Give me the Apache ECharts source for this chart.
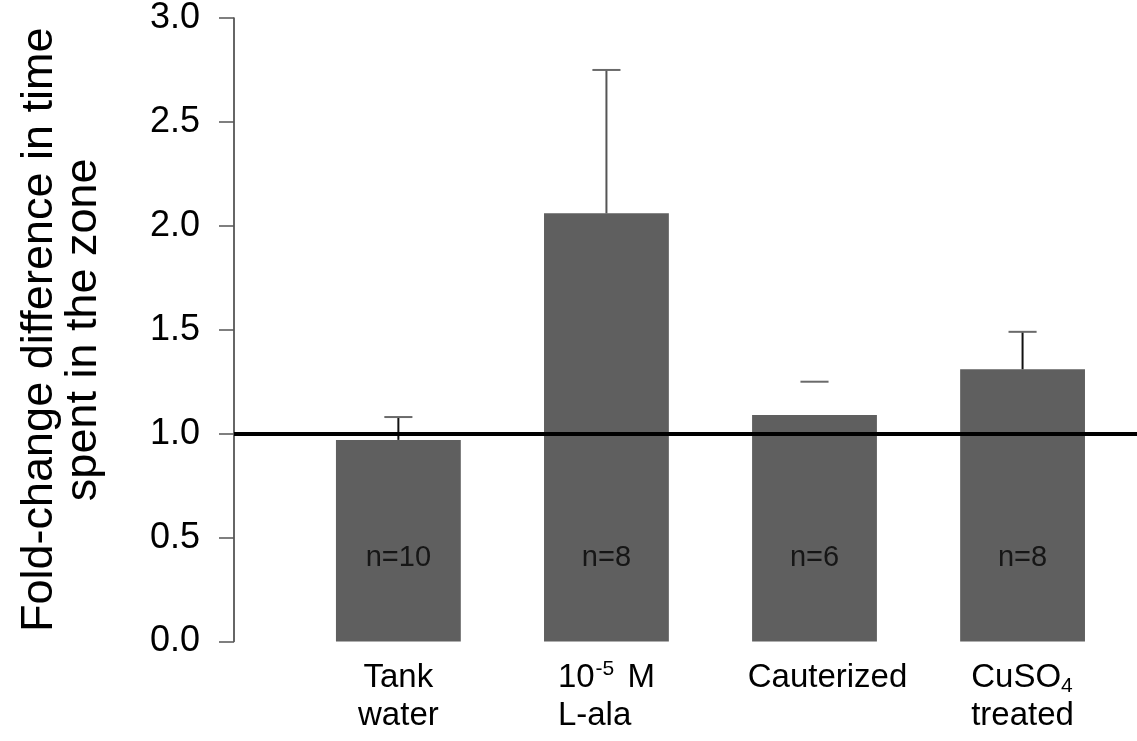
<!DOCTYPE html>
<html>
<head>
<meta charset="utf-8">
<script src="https://cdn.jsdelivr.net/npm/echarts@6/dist/echarts.min.js"></script>
<style>
  html, body { margin: 0; padding: 0; background: #ffffff; }
  #chart { width: 1137px; height: 741px; }
</style>
</head>
<body>
<div id="chart"></div>
<script>
// ---- data ----
const categories = ['Tank water', '10-5 M L-ala', 'Cauterized', 'CuSO4 treated'];
const means = [0.97, 2.06, 1.09, 1.31];
const errors = [0.11, 0.69, 0.16, 0.18];
const nLabels = ['n=10', 'n=8', 'n=6', 'n=8'];
const yTickLabels = ['0.0', '0.5', '1.0', '1.5', '2.0', '2.5', '3.0'];
const referenceLevel = 1.0;

// ---- styling ----
const FONT = '"Liberation Sans", Arial, Helvetica, sans-serif';
const stemColors = ['#111111', '#555555', 'rgba(0,0,0,0)', '#111111'];
const categoryRich = [
  '{c|Tank}\n{c|water}',
  '{l|10}{sup|-5}{l| M}\n{l|L-ala}',
  '{cp|Cauterized}',
  '{l|CuSO}{sub|4}\n{l|treated}'
];

const chart = echarts.init(document.getElementById('chart'), null, { renderer: 'canvas' });

const barData = means.map((v, i) => [i + 1, v, errors[i]]);

const option = {
  backgroundColor: '#ffffff',
  animation: false,
  grid: { left: 234, right: 0, top: 16, bottom: 99.5, containLabel: false },
  xAxis: {
    type: 'value',
    min: 0.21,
    max: 4.55,
    axisLine: { show: false },
    axisTick: { show: false },
    splitLine: { show: false },
    axisLabel: {
      customValues: [1, 2, 3, 4],
      margin: 17,
      verticalAlign: 'top',
      color: '#000',
      fontFamily: FONT,
      fontSize: 33,
      lineHeight: 38,
      formatter: (v) => categoryRich[Math.round(v) - 1] || '',
      rich: {
        c: { fontSize: 33, lineHeight: 38, fontFamily: FONT, color: '#000', align: 'center' },
        cp: { fontSize: 33, lineHeight: 38, fontFamily: FONT, color: '#000', align: 'center', padding: [0, 0, 0, 26] },
        l: { fontSize: 33, lineHeight: 38, fontFamily: FONT, color: '#000', align: 'left' },
        sup: { fontSize: 21, lineHeight: 21, fontFamily: FONT, color: '#000', align: 'left', verticalAlign: 'top', padding: [0, 4, 0, 1] },
        sub: { fontSize: 21, lineHeight: 21, fontFamily: FONT, color: '#000', align: 'left', verticalAlign: 'bottom' }
      }
    }
  },
  yAxis: {
    type: 'value',
    min: 0,
    max: 3,
    interval: 0.5,
    name: 'Fold-change difference in time\nspent in the zone',
    nameLocation: 'middle',
    nameRotate: 90,
    nameGap: 128,
    nameTextStyle: { fontFamily: FONT, fontSize: 45, lineHeight: 44, color: '#000' },
    axisLine: { show: true, lineStyle: { color: '#333', width: 1.5 } },
    axisTick: { show: true, length: 15, lineStyle: { color: '#555', width: 1.5 } },
    splitLine: { show: false },
    axisLabel: {
      margin: 34,
      color: '#000',
      fontFamily: FONT,
      fontSize: 36,
      formatter: (v) => yTickLabels[Math.round(v / 0.5)]
    }
  },
  series: [
    {
      type: 'custom',
      name: 'bars',
      z: 2,
      data: barData,
      encode: { x: 0, y: 1 },
      renderItem: (params, api) => {
        const i = params.dataIndex;
        const x = api.value(0);
        const v = api.value(1);
        const top = api.coord([x, v]);
        const base = api.coord([x, 0]);
        const w = api.size([0.6, 0])[0];
        const labelPt = api.coord([x, 0.40]);
        return {
          type: 'group',
          children: [
            {
              type: 'rect',
              shape: { x: top[0] - w / 2, y: top[1], width: w, height: base[1] - top[1] },
              style: { fill: '#5f5f5f' }
            },
            {
              type: 'text',
              x: labelPt[0],
              y: labelPt[1],
              style: {
                text: nLabels[i],
                fill: '#161616',
                font: '29px ' + FONT,
                align: 'center',
                verticalAlign: 'middle'
              }
            }
          ]
        };
      }
    },
    {
      type: 'custom',
      name: 'errors',
      z: 3,
      data: barData,
      encode: { x: 0, y: 1 },
      renderItem: (params, api) => {
        const i = params.dataIndex;
        const x = api.value(0);
        const v = api.value(1);
        const e = api.value(2);
        const p0 = api.coord([x, v]);
        const p1 = api.coord([x, v + e]);
        const capW = api.size([0.135, 0])[0];
        return {
          type: 'group',
          children: [
            {
              type: 'line',
              shape: { x1: p0[0], y1: p0[1], x2: p1[0], y2: p1[1] },
              style: { stroke: stemColors[i], lineWidth: 2 }
            },
            {
              type: 'line',
              shape: { x1: p1[0] - capW / 2, y1: p1[1], x2: p1[0] + capW / 2, y2: p1[1] },
              style: { stroke: '#6a6a6a', lineWidth: 2 }
            }
          ]
        };
      },
      markLine: {
        silent: true,
        symbol: ['none', 'none'],
        z: 5,
        label: { show: false },
        lineStyle: { color: '#000', width: 4, type: 'solid' },
        data: [{ yAxis: referenceLevel }]
      }
    }
  ]
};

chart.setOption(option);
</script>
</body>
</html>
